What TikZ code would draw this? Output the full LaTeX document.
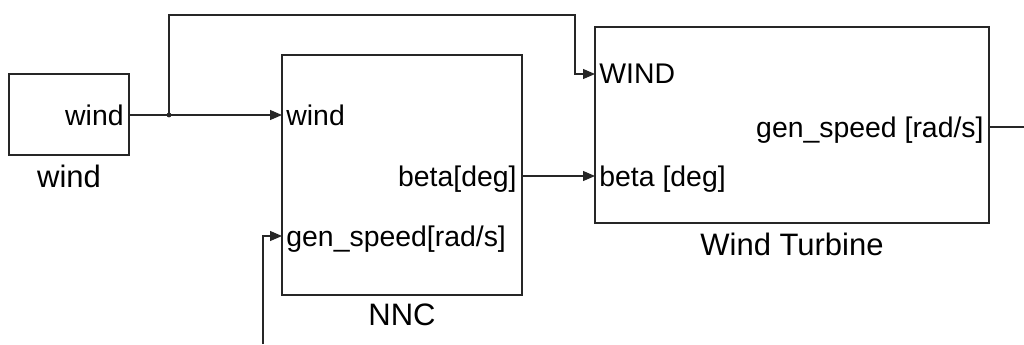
\documentclass[tikz,border=0pt]{standalone}
\usepackage{fontspec}
\setmainfont{Liberation Sans}
\usetikzlibrary{positioning,arrows.meta}

\begin{document}
\begin{tikzpicture}[x=0.5pt,y=-0.5pt,
  blk/.style={rectangle,draw=black!85,line width=0.75pt,inner sep=0pt},
  pin/.style={font=\fontsize{14.2}{16}\selectfont,inner xsep=2pt,inner ysep=0pt,text depth=0pt,anchor=west},
  pout/.style={font=\fontsize{14.2}{16}\selectfont,inner xsep=2.5pt,inner ysep=0pt,text depth=0pt,anchor=east},
  ttl/.style={font=\fontsize{15.5}{18}\selectfont,inner sep=0pt,outer sep=0pt},
  sig/.style={line width=0.6pt,black!85},
  ar/.style={sig,-{Triangle[length=6pt,width=5pt]}}]
\useasboundingbox (0,0) rectangle (1024,344);
% ---- blocks ----
\node[blk,minimum width=60pt,minimum height=40.5pt] (src) at (69,114.5) {};
\node[blk,minimum width=120pt,minimum height=120pt] (nnc) at (402,175) {};
\node[blk,minimum width=197pt,minimum height=98pt] (turb) at (792,125) {};
\node[ttl,below=4.5pt of src] (srcT) {wind};
\node[ttl,below=4pt of nnc] (nncT) {NNC};
\node[ttl,below=4.5pt of turb] (turbT) {Wind Turbine};
% ---- ports ----
\node[pout] (srcout) at (129,115) {wind};
\node[pin] (nncwind) at (282,115) {wind};
\node[pout] (nncbeta) at (522,176) {beta[deg]};
\node[pin] (nncgen) at (282,236) {gen\_speed[rad/s]};
\node[pin] (turbwind) at (595,74) {WIND};
\node[pin] (turbbeta) at (595,176) {beta [deg]};
\node[pout] (turbgen) at (989,127) {gen\_speed [rad/s]};
% ---- signals ----
\coordinate (jn) at (169,115);
\coordinate (up) at (575,15);
\coordinate (fb) at (263,344);
\coordinate (outend) at (1024,127);
\draw[ar] (srcout.east) -- (nncwind.west);
\fill[black!85] (jn) circle (1.2pt);
\draw[ar] (jn) |- (up) |- (turbwind.west);
\draw[ar] (nncbeta.east) -- (turbbeta.west);
\draw[ar] (fb) |- (nncgen.west);
\draw[sig] (turbgen.east) -- (outend);
\end{tikzpicture}
\end{document}
